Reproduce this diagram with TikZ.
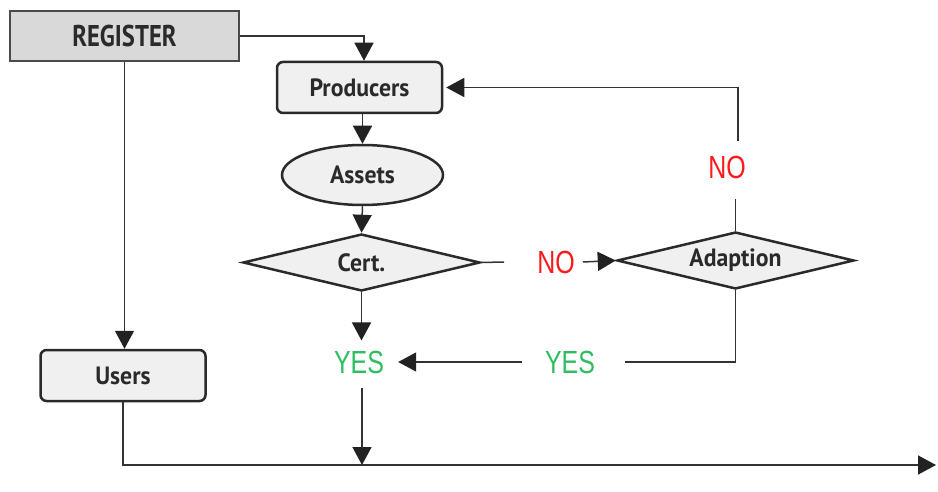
\documentclass[tikz,border=0pt]{standalone}
\usepackage{fontspec}
\setmainfont{PT Sans}
\newfontfamily\cond[FakeStretch=0.95]{PT Sans}
\newfontfamily\condr[FakeStretch=0.82]{PT Sans}
\newfontfamily\thinf[FakeStretch=0.78]{Liberation Sans}
\usetikzlibrary{shapes.geometric,arrows.meta}
\definecolor{boxfill}{HTML}{F0F0F0}
\definecolor{regfill}{HTML}{D9D9D9}
\definecolor{edgec}{HTML}{2A2A2A}
\definecolor{linec}{HTML}{333333}
\definecolor{tipc}{HTML}{222222}
\definecolor{nored}{HTML}{FF1A1A}
\definecolor{yesgreen}{HTML}{2DBE60}
\tikzset{
  box/.style={draw=edgec, line width=2.5pt, fill=boxfill, rounded corners=6pt,
    minimum width=165pt, minimum height=51pt, font=\cond\bfseries\fontsize{25}{28}\selectfont, text=edgec},
  regbox/.style={draw=edgec!85, line width=2.5pt, fill=regfill,
    minimum width=229pt, minimum height=50pt, font=\condr\bfseries\fontsize{30}{32}\selectfont, text=edgec},
  oval/.style={ellipse, draw=edgec, line width=2.5pt, fill=boxfill,
    minimum width=161pt, minimum height=60pt, inner sep=0pt, font=\cond\bfseries\fontsize{25}{28}\selectfont, text=edgec},
  decide/.style={diamond, aspect=4, draw=edgec, line width=2.5pt, fill=boxfill,
    minimum width=237pt, minimum height=57pt, inner sep=0pt, font=\cond\bfseries\fontsize{25}{28}\selectfont, text=edgec},
  nolbl/.style={inner sep=0pt, text=nored, font=\thinf\fontsize{32}{34}\selectfont},
  yeslbl/.style={inner sep=0pt, text=yesgreen, font=\thinf\fontsize{32}{34}\selectfont},
  conn/.style={draw=linec, line width=1.5pt, -{Triangle[width=19pt,length=18pt,color=tipc]}},
  plain/.style={draw=linec, line width=1.5pt},
}
\begin{document}
\begin{tikzpicture}[x=1pt,y=-1pt]
\useasboundingbox (0,0) rectangle (938,492);
\node[regbox] (reg) at (124.5,36) {REGISTER};
\node[box] (prod) at (359.5,87.5) {Producers};
\node[oval] (assets) at (362.5,175) {Assets};
\node[decide] (cert) at (361.5,262.5) {Cert.};
\node[decide] (adapt) at (735.5,260.5) {Adaption};
\node[box] (users) at (123,375.5) {Users};
\node[nolbl] (no1) at (556,262) {NO};
\node[nolbl] (no2) at (727,167) {NO};
\node[yeslbl] (yes1) at (359,362) {YES};
\node[yeslbl] (yes2) at (570,362) {YES};
\coordinate (endpt) at (936,465);

\draw[conn] (reg.east) -| (364,0 |- prod.north);
\draw[conn] (reg.south) -- (reg.south |- users.north);
\draw[conn] (prod.south -| assets.north) -- (assets.north);
\draw[conn] (assets.south) -- (cert.north);
\draw[plain] (cert.east) -- ([xshift=-33pt]no1.west);
\draw[conn] ([xshift=8pt]no1.east) -- (adapt.west);
\draw[conn] (cert.south) -- ([yshift=10pt]yes1.north -| cert.south);
\draw[plain] (adapt.south) |- ([xshift=30pt]yes2.east);
\draw[conn] ([xshift=-23pt]yes2.west) -- ([xshift=14pt]yes1.east);
\draw[plain] (adapt.north) -- ([yshift=-20pt]no2.south -| adapt.north);
\draw[conn] ([yshift=14pt]no2.north -| 738,0) |- ([xshift=3pt]prod.east);
\draw[conn] ([yshift=-14pt]yes1.south -| 362,0) -- (362,0 |- endpt);
\draw[conn] (users.south) |- (endpt);
\end{tikzpicture}
\end{document}
